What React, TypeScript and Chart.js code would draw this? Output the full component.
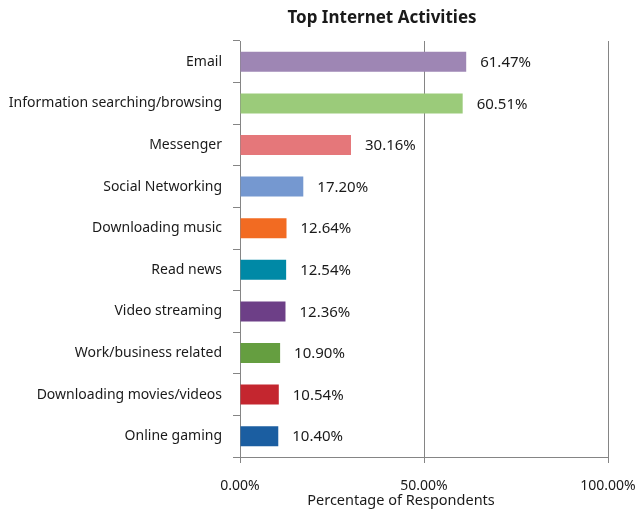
import React, { useEffect, useRef } from "react";
import { Chart, registerables } from "chart.js";

Chart.register(...registerables);

const categories = [
  "Email",
  "Information searching/browsing",
  "Messenger",
  "Social Networking",
  "Downloading music",
  "Read news",
  "Video streaming",
  "Work/business related",
  "Downloading movies/videos",
  "Online gaming",
];
const values = [61.47, 60.51, 30.16, 17.2, 12.64, 12.54, 12.36, 10.9, 10.54, 10.4];
const barColors = [
  "#9E86B4",
  "#9BCB7A",
  "#E5777A",
  "#7598D0",
  "#F26B22",
  "#0089A6",
  "#6D3F87",
  "#659E40",
  "#C4262F",
  "#1B5EA1",
];
const xTicks = [0, 50, 100];
const titleText = "Top Internet Activities";
const xAxisTitle = "Percentage of Respondents";

const FONT = "'Noto Sans', sans-serif";
const TEXT = "#1a1a1a";
const GRID = "#858585";

const labelsPlugin = {
  id: "valueLabels",
  afterDatasetsDraw(chart: any) {
    const ctx = chart.ctx;
    const meta = chart.getDatasetMeta(0);
    ctx.save();
    ctx.font = `15px ${FONT}`;
    ctx.fillStyle = TEXT;
    ctx.textAlign = "left";
    ctx.textBaseline = "middle";
    meta.data.forEach((bar: any, i: number) => {
      ctx.fillText(values[i].toFixed(2) + "%", bar.x + 14, bar.y + 1);
    });
    ctx.restore();
  },
  afterDraw(chart: any) {
    const ctx = chart.ctx;
    const area = chart.chartArea;
    ctx.save();
    ctx.fillStyle = TEXT;
    ctx.textAlign = "center";
    ctx.textBaseline = "middle";
    ctx.font = `bold 17px ${FONT}`;
    ctx.fillText(titleText, 382, 18);
    ctx.font = `14.5px ${FONT}`;
    ctx.fillText(xAxisTitle, 401, area.bottom + 44);
    ctx.restore();
  },
};

export default function App() {
  const ref = useRef<HTMLCanvasElement>(null);
  useEffect(() => {
    if (!ref.current) return;
    const chart = new Chart(ref.current, {
      type: "bar",
      data: {
        labels: categories,
        datasets: [
          {
            data: values,
            backgroundColor: barColors,
            borderWidth: 0,
            barPercentage: 0.48,
            categoryPercentage: 1,
          },
        ],
      },
      options: {
        indexAxis: "y",
        animation: false,
        responsive: false,
        maintainAspectRatio: false,
        layout: { padding: { top: 41, right: 34, left: 0, bottom: 0 } },
        plugins: {
          legend: { display: false },
          tooltip: { enabled: false },
          title: { display: false },
        },
        scales: {
          x: {
            min: 0,
            max: 100,
            afterBuildTicks(scale: any) {
              scale.ticks = xTicks.map((v) => ({ value: v }));
            },
            afterFit(scale: any) {
              scale.height = 57;
              scale.paddingRight = 0;
              scale.paddingLeft = 0;
            },
            ticks: {
              color: TEXT,
              font: { family: FONT, size: 14 },
              padding: 15,
              maxRotation: 0,
              autoSkip: false,
              callback: (v: any) => Number(v).toFixed(2) + "%",
            },
            grid: {
              color: GRID,
              lineWidth: 1,
              tickLength: 6,
              drawOnChartArea: true,
            },
            border: { color: GRID, width: 1 },
          },
          y: {
            afterFit(scale: any) {
              scale.width = 240;
              scale.paddingTop = 0;
              scale.paddingBottom = 0;
            },
            ticks: {
              color: TEXT,
              font: { family: FONT, size: 14 },
              padding: 11,
              autoSkip: false,
            },
            grid: {
              color: GRID,
              lineWidth: 1,
              tickLength: 7,
              drawOnChartArea: false,
              offset: true,
            },
            border: { color: GRID, width: 1 },
          },
        },
      },
      plugins: [labelsPlugin],
    });
    return () => chart.destroy();
  }, []);
  return (
    <div style={{ position: "absolute", left: 0, top: 0, width: 642, height: 514 }}>
      <canvas ref={ref} width={642} height={514} style={{ width: 642, height: 514, display: "block" }} />
    </div>
  );
}
